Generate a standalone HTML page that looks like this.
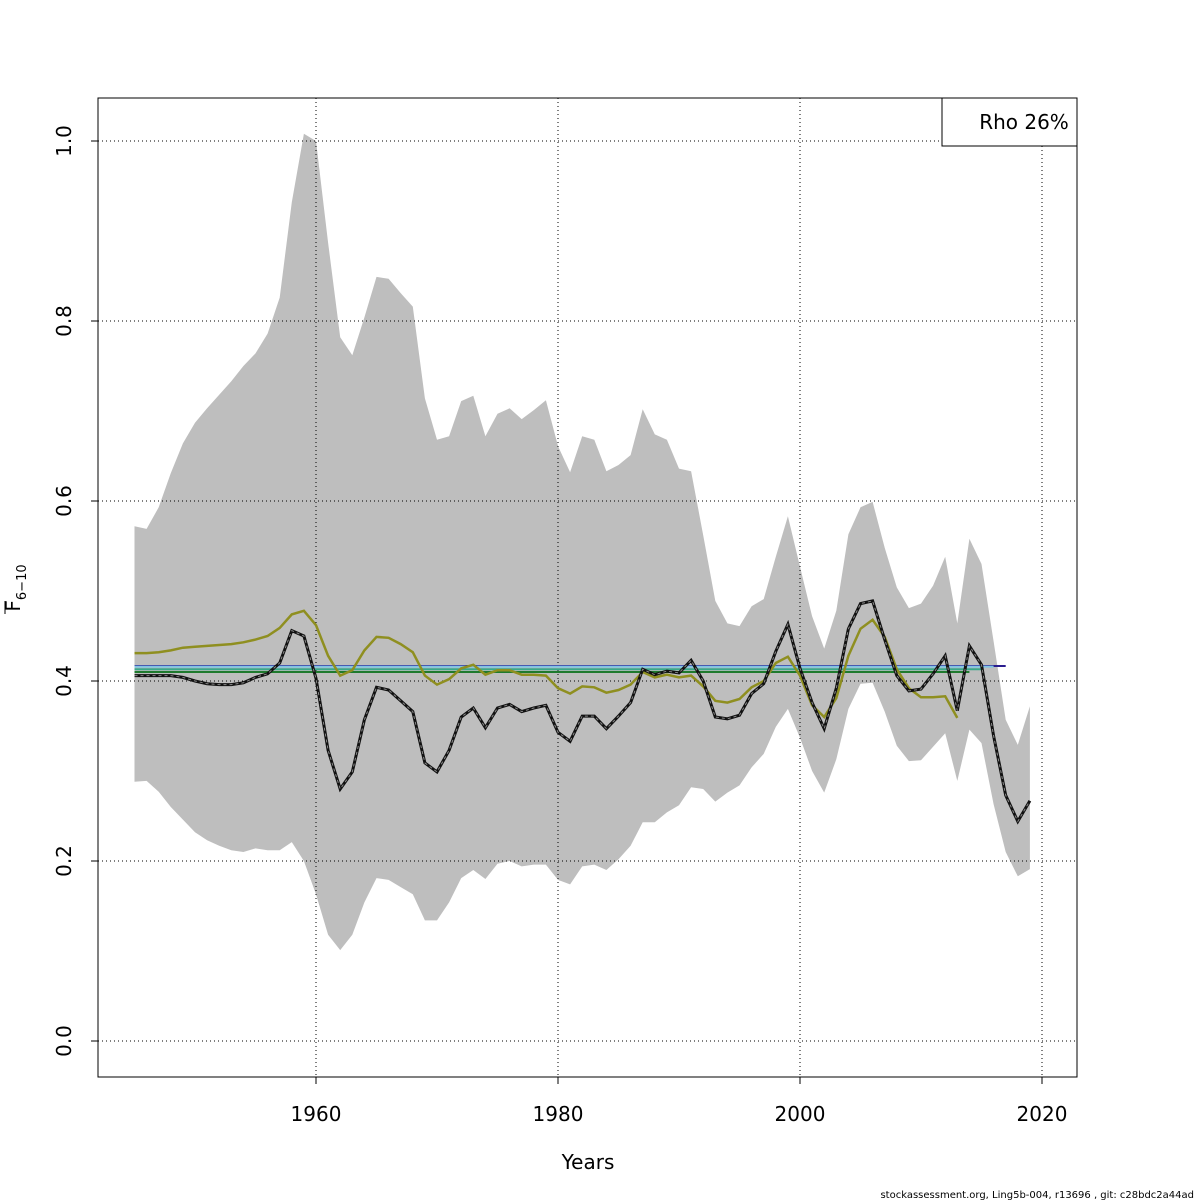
<!DOCTYPE html>
<html><head><meta charset="utf-8"><style>
body{margin:0;background:#fff;}
svg{display:block;font-family:"DejaVu Sans","Liberation Sans",sans-serif;}
</style></head><body>
<svg id="chart" width="1200" height="1200" viewBox="0 0 1200 1200" xmlns="http://www.w3.org/2000/svg">
<rect width="1200" height="1200" fill="#fff"/>
<g id="band"></g>
<g id="grid"></g>
<g id="flat"></g>
<g id="lines"></g>
<rect x="98" y="98" width="979" height="979" fill="none" stroke="#000" stroke-width="1"/>
<g id="axes"></g>
<g>
<rect x="942" y="98" width="135" height="48" fill="#fff" stroke="#000" stroke-width="1"/>
<text x="1024" y="129" font-size="20" text-anchor="middle">Rho 26%</text>
</g>
<text x="588" y="1169" font-size="20" text-anchor="middle">Years</text>
<g transform="translate(20,588) rotate(-90)">
<text font-size="20" text-anchor="middle">F<tspan font-size="13" dy="6">6−10</tspan></text>
<line x1="-26" y1="-15" x2="-13" y2="-15" stroke="#000" stroke-width="1"/>
</g>
<text x="1194" y="1198" font-size="10" text-anchor="end">stockassessment.org, Ling5b-004, r13696 , git: c28bdc2a44ad</text>
</svg>
<script>
const startYear = 1945;
const fBar = [.406,.406,.406,.406,.404,.400,.397,.396,.396,.398,.404,.408,.420,.456,.450,.403,.323,.280,.299,.357,.393,.390,.378,.366,.309,.299,.323,.360,.370,.348,.370,.374,.366,.370,.373,.343,.333,.361,.361,.347,.361,.376,.413,.407,.411,.409,.423,.400,.360,.358,.362,.386,.397,.433,.463,.414,.376,.347,.392,.458,.486,.489,.446,.406,.389,.391,.408,.428,.367,.439,.418,.339,.273,.244,.267];
const fUpper = [.572,.569,.593,.631,.664,.687,.703,.718,.733,.750,.764,.786,.826,.932,1.008,1.000,.887,.782,.762,.804,.849,.847,.831,.816,.714,.668,.672,.711,.717,.672,.697,.703,.691,.701,.712,.661,.632,.672,.668,.633,.640,.651,.702,.674,.668,.636,.633,.562,.489,.464,.461,.483,.491,.538,.583,.527,.472,.436,.478,.563,.593,.599,.548,.504,.481,.486,.506,.538,.464,.558,.530,.444,.357,.329,.372];
const fLower = [.288,.289,.277,.260,.246,.232,.223,.217,.212,.210,.214,.212,.212,.221,.200,.163,.118,.101,.118,.154,.181,.179,.171,.163,.134,.134,.154,.181,.190,.180,.197,.200,.194,.196,.196,.179,.174,.194,.196,.190,.202,.217,.243,.243,.254,.262,.282,.280,.266,.276,.284,.304,.319,.349,.369,.337,.300,.276,.313,.369,.397,.398,.366,.328,.311,.312,.327,.342,.289,.346,.331,.263,.210,.183,.191];
const fRetro = [.431,.431,.432,.434,.437,.438,.439,.440,.441,.443,.446,.450,.459,.474,.478,.462,.428,.406,.412,.434,.449,.448,.441,.432,.406,.396,.402,.414,.418,.407,.412,.412,.407,.407,.406,.392,.386,.394,.393,.387,.390,.396,.410,.404,.407,.404,.406,.394,.378,.376,.380,.393,.400,.420,.427,.406,.373,.360,.381,.428,.458,.468,.449,.413,.392,.382,.382,.383,.359];
const flatEnds = [2017,2016,2015,2014];
const flatValues = [.4167,.4160,.4130,.4100];
const flatColors = ["#2a1d8f","#7ec3e6","#3aa88a","#1f7a2e"];
const xTicks = [1960,1980,2000,2020];
const yTicks = [0,0.2,0.4,0.6,0.8,1.0];
const yTickLabels = ["0.0","0.2","0.4","0.6","0.8","1.0"];

const X = y => 316 + (y - 1960) * 12.1;
const Y = v => 1041 - v * 900;
const NS = "http://www.w3.org/2000/svg";
function mk(tag, parent, attrs){const e=document.createElementNS(NS,tag);for(const k in attrs)e.setAttribute(k,attrs[k]);document.getElementById(parent).appendChild(e);return e;}
function pts(arr){return arr.map((v,i)=>X(startYear+i).toFixed(1)+","+Y(v).toFixed(1)).join(" ");}

let poly = pts(fUpper) + " " + fLower.map((v,i)=>[X(startYear+i),Y(v)]).reverse().map(p=>p[0].toFixed(1)+","+p[1].toFixed(1)).join(" ");
const band = mk("polygon","band",{points:poly,fill:"#bebebe",stroke:"none"});



xTicks.forEach(t=>{
  const g = mk("line","grid",{x1:X(t),x2:X(t),y1:98,y2:1077,stroke:"#000","stroke-width":1,"stroke-dasharray":"1 3"});
  
  
  const tk = mk("line","axes",{x1:X(t),x2:X(t),y1:1077,y2:1084,stroke:"#000"});
  
  
  const lb = mk("text","axes",{x:X(t),y:1121,"font-size":20,"text-anchor":"middle"});
  lb.textContent = t;
  
  
});
yTicks.forEach((t,i)=>{
  const g = mk("line","grid",{x1:98,x2:1077,y1:Y(t),y2:Y(t),stroke:"#000","stroke-width":1,"stroke-dasharray":"1 3"});
  
  
  const tk = mk("line","axes",{x1:91,x2:98,y1:Y(t),y2:Y(t),stroke:"#000"});
  
  
  const lb = mk("text","axes",{x:0,y:0,"font-size":20,"text-anchor":"middle",transform:"translate(71,"+Y(t)+") rotate(-90)"});
  lb.textContent = yTickLabels[i];
  
  
});

flatEnds.forEach((e,i)=>{
  const l = mk("line","flat",{x1:X(startYear),x2:X(e),y1:Y(flatValues[i]),y2:Y(flatValues[i]),stroke:flatColors[i],"stroke-width":2});
  
  
});

const ol = mk("polyline","lines",{points:pts(fRetro),fill:"none",stroke:"#8f8f20","stroke-width":2.5});


const bl = mk("polyline","lines",{points:pts(fBar),fill:"none",stroke:"#111","stroke-width":3});


const bd = mk("polyline","lines",{points:pts(fBar),fill:"none",stroke:"#888","stroke-width":1,"stroke-dasharray":"3 3"});


</script>
</body></html>
